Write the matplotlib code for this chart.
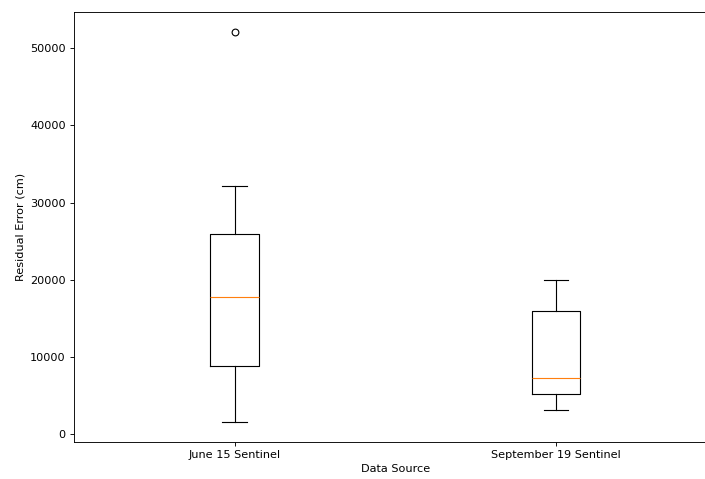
import matplotlib
matplotlib.use('Agg')
import matplotlib.pyplot as plt

# box statistics
labels = ['June 15 Sentinel', 'September 19 Sentinel']
whislo = [1590, 3100]
q1 = [8830, 5210]
med = [17750, 7280]
q3 = [25990, 16030]
whishi = [32160, 20000]
fliers = [[52170], []]

s = 0.81  # reference looks like a shrunk default figure
plt.rcParams.update({
    'font.size': 10 * s,
    'axes.linewidth': 0.8 * s,
    'xtick.major.size': 3.5 * s, 'ytick.major.size': 3.5 * s,
    'xtick.major.width': 0.8 * s, 'ytick.major.width': 0.8 * s,
    'xtick.major.pad': 3.5 * s, 'ytick.major.pad': 3.5 * s,
    'axes.labelpad': 4.0 * s,
    'boxplot.boxprops.linewidth': 1.0 * s,
    'boxplot.whiskerprops.linewidth': 1.0 * s,
    'boxplot.capprops.linewidth': 1.0 * s,
    'boxplot.medianprops.linewidth': 1.0 * s,
    'boxplot.flierprops.markersize': 6 * s,
    'boxplot.flierprops.markeredgewidth': 1.0 * s,
})

stats = []
for i in range(len(labels)):
    stats.append(dict(label=labels[i], whislo=whislo[i], q1=q1[i], med=med[i],
                      q3=q3[i], whishi=whishi[i], fliers=fliers[i]))

fig, ax = plt.subplots(figsize=(7.05, 4.79), dpi=100)
fig.subplots_adjust(left=0.1045, right=1.017, bottom=0.078, top=0.975)
ax.bxp(stats)
ax.set_xlabel('Data Source')
ax.set_ylabel('Residual Error (cm)')
fig.savefig('out.png', dpi=100)
